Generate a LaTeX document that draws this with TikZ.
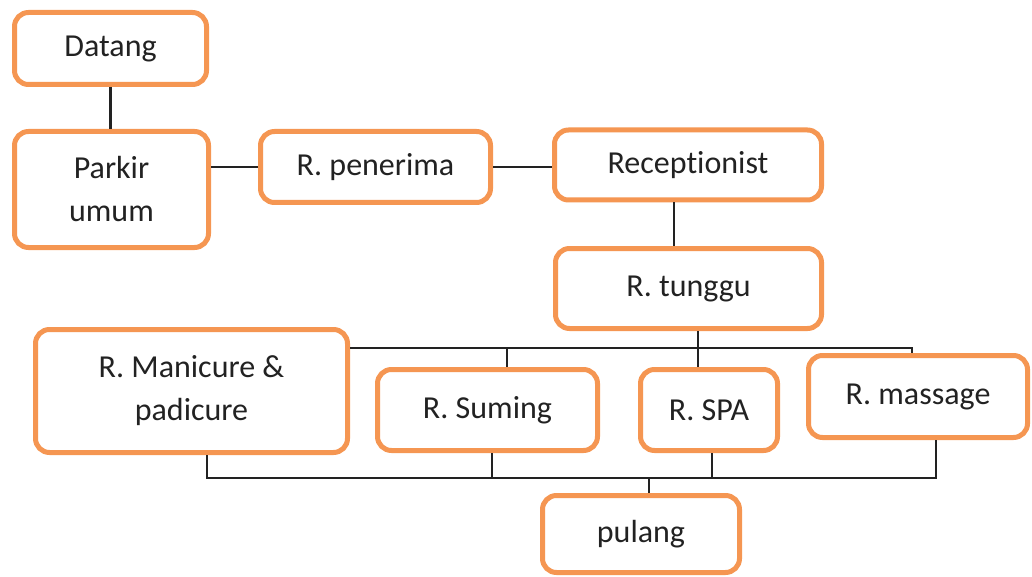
\documentclass[tikz,border=0pt]{standalone}
\usepackage{fontspec}
\setmainfont{Carlito}[Ligatures=NoCommon]
\definecolor{boxorange}{RGB}{245,150,82}
\definecolor{inkgray}{RGB}{34,34,34}
\tikzset{
  room/.style={draw=boxorange, line width=5pt, rounded corners=14pt, fill=white,
    rectangle, align=center, text=inkgray, inner sep=0pt,
    font=\fontsize{32}{43}\selectfont},
  link/.style={draw=inkgray, line width=2.4pt}
}
\begin{document}
\begin{tikzpicture}[x=1pt, y=-1pt]
\useasboundingbox (0,0) rectangle (1032,577);
% rooms
\node[room, minimum width=192pt, minimum height=72pt] (datang) at (110.5,48.5) {Datang};
\node[room, minimum width=194pt, minimum height=116pt] (parkir) at (111.5,189.5) {Parkir\\umum};
\node[room, minimum width=230pt, minimum height=71pt] (pen) at (375.5,167) {R. penerima};
\node[room, minimum width=267pt, minimum height=70pt] (rec) at (688,165) {Receptionist};
\node[room, minimum width=266pt, minimum height=80pt] (tun) at (688.5,288.5) {R. tunggu};
\node[room, minimum width=312pt, minimum height=123pt] (man) at (191.5,391) {R. Manicure \&\\padicure};
\node[room, minimum width=220pt, minimum height=81pt] (sum) at (487.5,410) {R. Suming};
\node[room, minimum width=137pt, minimum height=81pt] (spa) at (709,410) {R. SPA};
\node[room, minimum width=219pt, minimum height=82pt, text depth=4pt] (mas) at (918,396.5) {R. massage};
\node[room, minimum width=197pt, minimum height=77pt] (pul) at (641,534) {pulang};
% bus lines
\coordinate (busT) at (0,348);
\coordinate (busB) at (0,478);
% connectors
\draw[link] (datang.south) -- (datang.south |- parkir.north);
\draw[link] (parkir.east |- pen.west) -- (pen.west);
\draw[link] (pen.east) -- (pen.east -| rec.west);
\draw[link] ([xshift=-14pt]rec.south) -- ([xshift=-14pt]rec.south |- tun.north);
\draw[link] ([xshift=9.5pt]tun.south) -- ([xshift=9.5pt]tun.south |- spa.north);
\draw[link] (man.east |- busT) -- ([xshift=-6pt]mas.north |- busT) -- ([xshift=-6pt]mas.north);
\draw[link] ([xshift=19.5pt]sum.north |- busT) -- ([xshift=19.5pt]sum.north);
\draw[link] ([xshift=15.5pt]man.south) |- ([xshift=18pt]mas.south |- busB) -- ([xshift=18pt]mas.south);
\draw[link] ([xshift=4.5pt]sum.south) -- ([xshift=4.5pt]sum.south |- busB);
\draw[link] ([xshift=3pt]spa.south) -- ([xshift=3pt]spa.south |- busB);
\draw[link] ([xshift=8pt]pul.north |- busB) -- ([xshift=8pt]pul.north);
\end{tikzpicture}
\end{document}
